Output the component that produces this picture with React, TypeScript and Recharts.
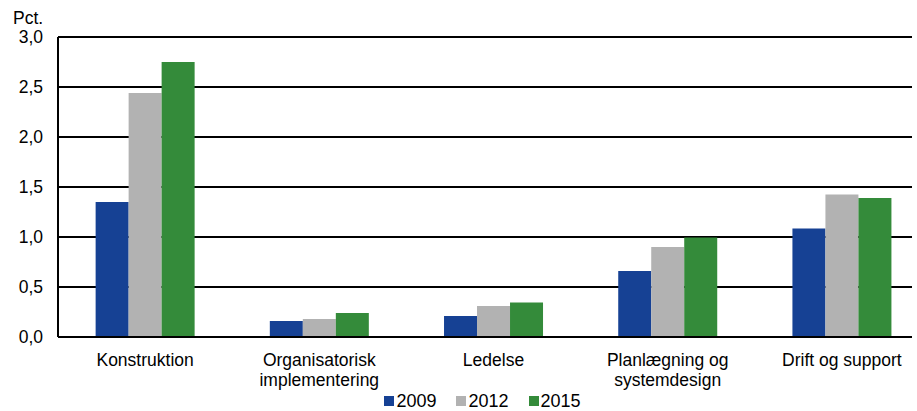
import React from 'react';
import { BarChart, Bar, XAxis, YAxis, CartesianGrid, Legend } from 'recharts';

const categories = ['Konstruktion', 'Organisatorisk\nimplementering', 'Ledelse', 'Planlægning og\nsystemdesign', 'Drift og support'];
const values2009 = [1.35, 0.16, 0.21, 0.66, 1.085];
const values2012 = [2.44, 0.18, 0.31, 0.9, 1.425];
const values2015 = [2.75, 0.24, 0.345, 0.995, 1.39];
const yTicks = [0, 0.5, 1, 1.5, 2, 2.5, 3];
const seriesNames = ['2009', '2012', '2015'];
const colors = ['#164194', '#B2B2B2', '#348B3A'];

const data = categories.map((c, i) => ({
  name: c,
  y2009: values2009[i],
  y2012: values2012[i],
  y2015: values2015[i],
}));

const FONT = "Arial, 'Liberation Sans', sans-serif";

const XTick = (props: any) => {
  const { x, y, payload } = props;
  const lines = String(payload.value).split('\n');
  return (
    <text x={x} y={y} textAnchor="middle" fontFamily={FONT} fontSize={17.5} fill="#000">
      {lines.map((l, i) => (
        <tspan key={i} x={x} dy={i === 0 ? 29 : 20}>{l}</tspan>
      ))}
    </text>
  );
};

const YTick = (props: any) => {
  const { x, y, payload } = props;
  return (
    <text x={x} y={y} dy={6.2} textAnchor="end" fontFamily={FONT} fontSize={17.5} fill="#000">
      {payload.value.toFixed(1).replace('.', ',')}
    </text>
  );
};

const LegendContent = () => (
  <div style={{ display: 'flex', justifyContent: 'center', fontFamily: FONT, fontSize: 18, lineHeight: '20px', color: '#000' }}>
    {seriesNames.map((n, i) => (
      <div key={n} style={{ display: 'flex', alignItems: 'center', marginRight: i < 2 ? 20 : 0 }}>
        <span style={{ display: 'inline-block', width: 10, height: 10, background: colors[i], marginRight: 2 }} />
        <span>{n}</span>
      </div>
    ))}
  </div>
);

export default function App() {
  return (
    <div style={{ position: 'absolute', left: 0, top: 0, width: 917, height: 411, overflow: 'hidden', background: '#fff' }}>
      <BarChart
        width={917}
        height={411}
        data={data}
        margin={{ top: 37, right: 5, bottom: 44, left: 0 }}
        barCategoryGap="21.6%"
        barGap={0}
      >
        <CartesianGrid vertical={false} stroke="#000" strokeWidth={2} />
        <XAxis
          dataKey="name"
          height={30}
          tick={<XTick />}
          tickLine={false}
          tickSize={0}
          tickMargin={0}
          padding={{ left: 0, right: -17 }}
          axisLine={{ stroke: '#000', strokeWidth: 2 }}
          interval={0}
        />
        <YAxis
          domain={[0, 3]}
          ticks={yTicks}
          width={58}
          tick={<YTick />}
          tickLine={false}
          tickSize={0}
          tickMargin={15}
          axisLine={{ stroke: '#000', strokeWidth: 2 }}
          label={{
            content: () => (
              <text x={13} y={24} fontFamily={FONT} fontSize={17.5} fill="#000">Pct.</text>
            ),
          }}
        />
        <Legend
          content={<LegendContent />}
          layout="horizontal"
          verticalAlign="middle"
          align="center"
          wrapperStyle={{ top: 391, left: 24, width: 917, height: 20 }}
        />
        <Bar dataKey="y2009" name="2009" fill={colors[0]} isAnimationActive={false} />
        <Bar dataKey="y2012" name="2012" fill={colors[1]} isAnimationActive={false} />
        <Bar dataKey="y2015" name="2015" fill={colors[2]} isAnimationActive={false} />
      </BarChart>
    </div>
  );
}
